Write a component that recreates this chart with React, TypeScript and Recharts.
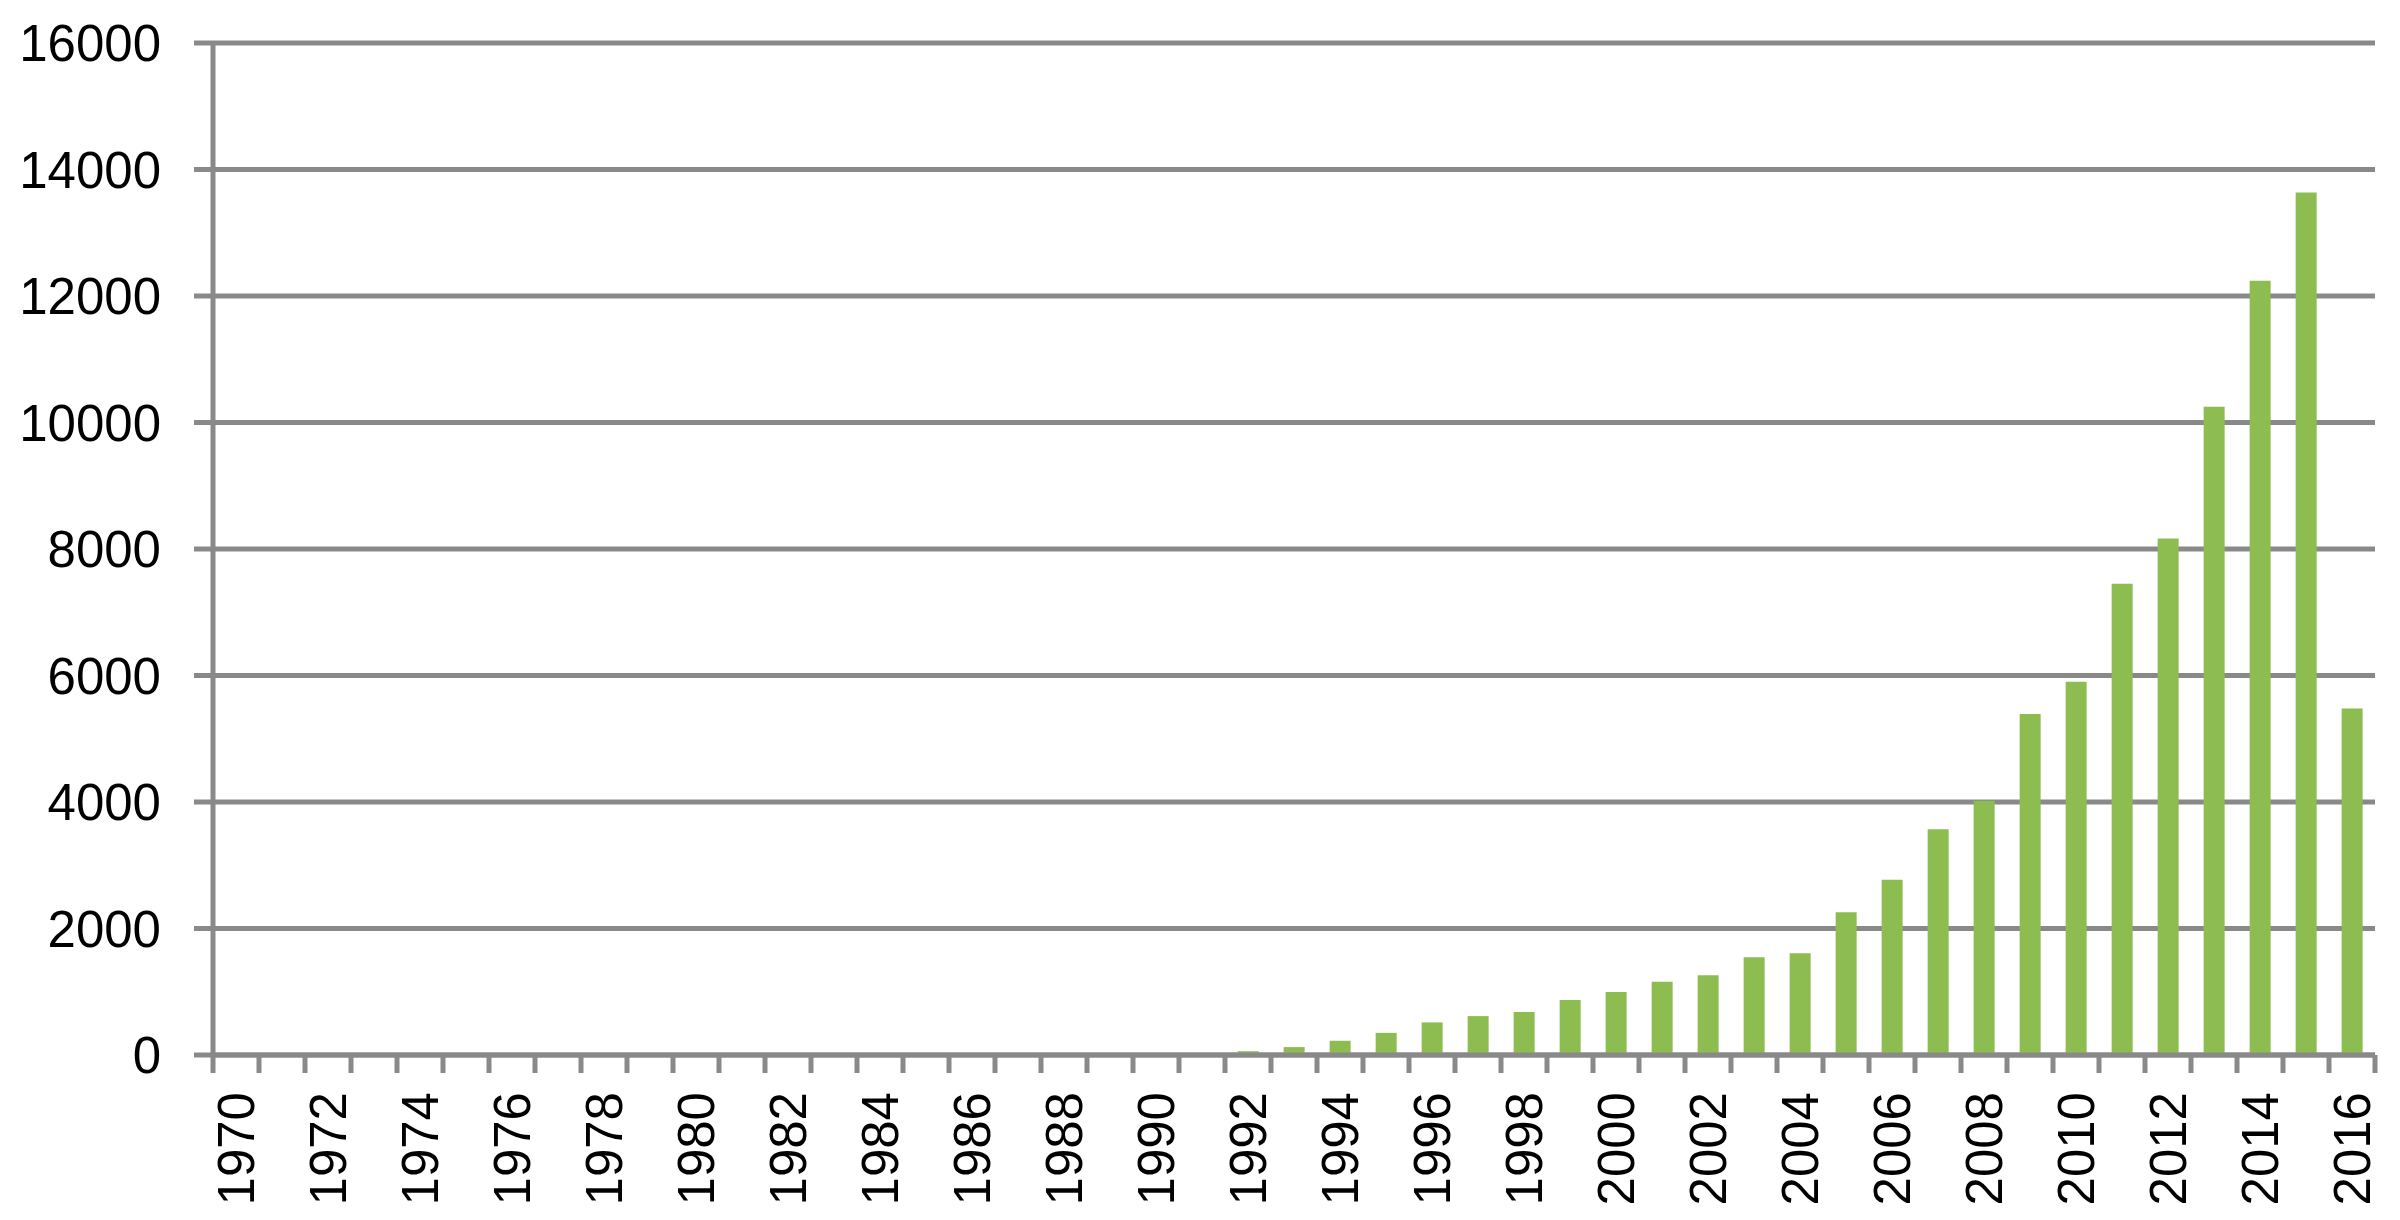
import { BarChart, Bar, XAxis, YAxis, CartesianGrid } from 'recharts';

const years = [
  1970, 1971, 1972, 1973, 1974, 1975, 1976, 1977, 1978, 1979,
  1980, 1981, 1982, 1983, 1984, 1985, 1986, 1987, 1988, 1989,
  1990, 1991, 1992, 1993, 1994, 1995, 1996, 1997, 1998, 1999,
  2000, 2001, 2002, 2003, 2004, 2005, 2006, 2007, 2008, 2009,
  2010, 2011, 2012, 2013, 2014, 2015, 2016,
];

const counts = [
  0, 0, 0, 0, 0, 0, 0, 0, 0, 0,
  0, 0, 0, 0, 0, 0, 0, 0, 0, 0,
  0, 0, 60, 125, 225, 350, 515, 615, 680, 870,
  995, 1160, 1260, 1545, 1610, 2255, 2770, 3570, 4020, 5390,
  5900, 7450, 8165, 10250, 12240, 13635, 5480,
];

const yTicks = [0, 2000, 4000, 6000, 8000, 10000, 12000, 14000, 16000];

const chartData = years.map((year, i) => ({ year, count: counts[i] }));

const AXIS_GREY = '#898989';
const FONT = '"Liberation Sans", Arial, sans-serif';

// category axis: tick marks sit between bars, labels only on even years
function YearTick(props: any) {
  const { x, y, payload, index } = props;
  const half = payload && payload.offset ? payload.offset : 23;
  const last = index === years.length - 1;
  const showLabel = payload.value % 2 === 0;
  return (
    <g>
      <line x1={x - half} y1={y} x2={x - half} y2={y + 18} stroke={AXIS_GREY} strokeWidth={5} />
      {last && <line x1={x + half} y1={y} x2={x + half} y2={y + 18} stroke={AXIS_GREY} strokeWidth={5} />}
      {showLabel && (
        <text
          x={x}
          y={y + 37}
          transform={`rotate(-90, ${x}, ${y + 37})`}
          textAnchor="end"
          dy="0.355em"
          fill="#000"
          fontSize={51}
          fontFamily={FONT}
        >
          {payload.value}
        </text>
      )}
    </g>
  );
}

export default function App() {
  return (
    <div style={{ position: 'absolute', left: 0, top: 0, background: '#fff' }}>
      <BarChart
        width={2400}
        height={1220}
        data={chartData}
        margin={{ top: 43, right: 25, bottom: 0, left: 0 }}
        barCategoryGap="27.5%"
      >
        <CartesianGrid vertical={false} stroke={AXIS_GREY} strokeWidth={5} />
        <XAxis
          dataKey="year"
          interval={0}
          height={165}
          tickSize={0}
          tickMargin={0}
          tickLine={false}
          axisLine={{ stroke: AXIS_GREY, strokeWidth: 5 }}
          tick={<YearTick />}
        />
        <YAxis
          width={213}
          domain={[0, 16000]}
          ticks={yTicks}
          interval={0}
          tickSize={19}
          tickMargin={33}
          axisLine={{ stroke: AXIS_GREY, strokeWidth: 5 }}
          tickLine={{ stroke: AXIS_GREY, strokeWidth: 5 }}
          tick={{ fill: '#000', fontSize: 51, fontFamily: FONT }}
        />
        <Bar dataKey="count" fill="#8dbd50" isAnimationActive={false} />
      </BarChart>
    </div>
  );
}
